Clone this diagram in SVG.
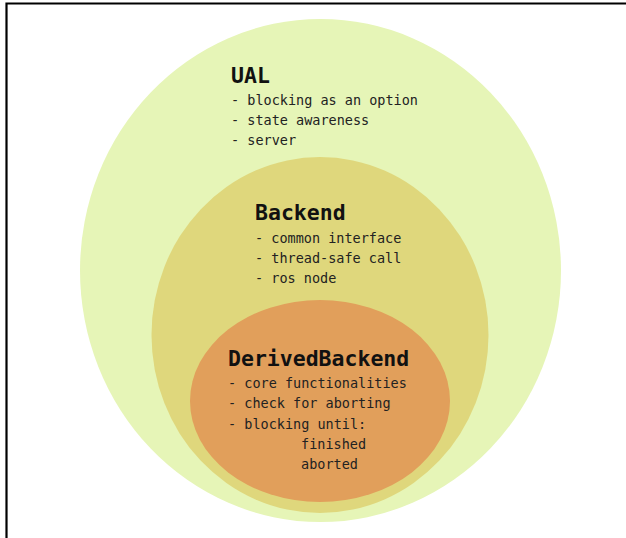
<svg xmlns="http://www.w3.org/2000/svg" width="626" height="538" viewBox="0 0 626 538">
  <style>
    .title { font-family: "DejaVu Sans Mono", "Liberation Mono", monospace; font-weight: bold; font-size: 21.5px; fill: #111; }
    .item { font-family: "DejaVu Sans Mono", "Liberation Mono", monospace; font-size: 13.5px; fill: #222; }
  </style>
  <rect x="0" y="0" width="626" height="538" fill="#ffffff"/>
  <!-- frame -->
  <path d="M6.5,538 V3.5 H626" fill="none" stroke="#000" stroke-width="2.2"/>

  <g id="ual">
    <ellipse cx="320.5" cy="270.5" rx="240.5" ry="251.5" fill="#e6f5b7"/>
    <text class="title" x="231" y="83">UAL</text>
    <text class="item" x="231" y="105">- blocking as an option</text>
    <text class="item" x="231" y="125">- state awareness</text>
    <text class="item" x="231" y="145">- server</text>
  </g>

  <g id="backend">
    <ellipse cx="320" cy="335" rx="168.5" ry="178" fill="#dfd77c"/>
    <text class="title" x="255" y="220">Backend</text>
    <text class="item" x="255" y="243">- common interface</text>
    <text class="item" x="255" y="263">- thread-safe call</text>
    <text class="item" x="255" y="283">- ros node</text>
  </g>

  <g id="derived-backend">
    <ellipse cx="320" cy="401" rx="130" ry="101" fill="#e19f5b"/>
    <text class="title" x="228" y="366">DerivedBackend</text>
    <text class="item" x="228" y="388">- core functionalities</text>
    <text class="item" x="228" y="408">- check for aborting</text>
    <text class="item" x="228" y="429">- blocking until:</text>
    <text class="item" x="301" y="449">finished</text>
    <text class="item" x="301" y="469">aborted</text>
  </g>

  <g id="connectors"/>
</svg>
